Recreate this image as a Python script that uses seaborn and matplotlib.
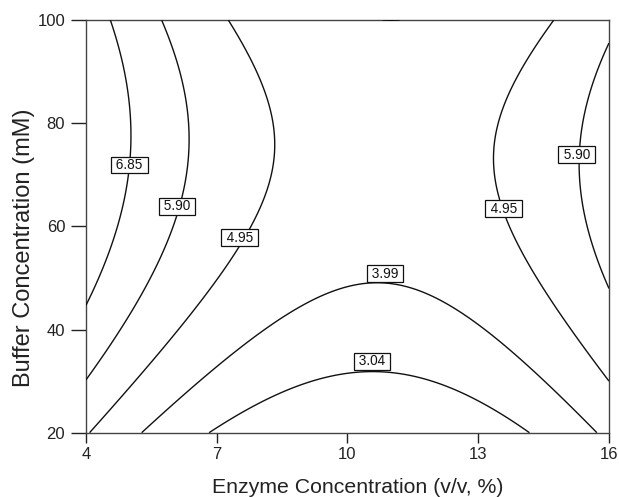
import numpy as np
import matplotlib
matplotlib.use("Agg")
import matplotlib.pyplot as plt
import seaborn as sns

# Response-surface model (read from the contour geometry)
# f = A + P*(x - (x0 + s*(y - 20)))**2 - Q*(y - yc)**2
A = 4.514
P = 0.069
Q = 0.00081
yc = 74.5
x0 = 10.5
s = 0.00625

levels = [3.04, 3.99, 4.95, 5.90, 6.85]
x_ticks = [4, 7, 10, 13, 16]
y_ticks = [20, 40, 60, 80, 100]
# where the boxed contour labels sit (layout)
label_spots = [(4.99, 71.9), (6.09, 63.9), (7.53, 57.8), (10.86, 50.8),
               (10.56, 33.8), (13.58, 63.4), (15.26, 73.9)]

sns.set_theme(style="ticks")
plt.rcParams['font.family'] = ['Liberation Sans', 'DejaVu Sans']

xg = np.linspace(4, 16, 500)
yg = np.linspace(20, 100, 500)
X, Y = np.meshgrid(xg, yg)
Z = A + P * (X - (x0 + s * (Y - 20))) ** 2 - Q * (Y - yc) ** 2

fig = plt.figure(figsize=(6.19, 4.97), dpi=100)
ax = fig.add_axes([0.1389, 0.1294, 0.9838 - 0.1389, 0.9598 - 0.1294])

cs = ax.contour(X, Y, Z, levels=levels, colors='#111111', linewidths=1.0,
                zorder=3)
labels = ax.clabel(cs, levels=levels, fmt=' %.2f ', inline=False,
                   fontsize=9.8, manual=label_spots)
for t, spot in zip(labels, label_spots):
    t.set_rotation(0)
    t.set_position(spot)
    t.set_color('#111111')
    t.set_zorder(5)
    t.set_bbox(dict(facecolor='white', edgecolor='#111111', linewidth=0.9,
                    boxstyle='square,pad=0.1'))

ax.set_xlim(4, 16)
ax.set_ylim(20, 100)
ax.set_xticks(x_ticks)
ax.set_yticks(y_ticks)
ax.tick_params(axis='both', direction='out', labelsize=12, colors='#222222',
               width=1.0)
ax.tick_params(axis='y', length=11, pad=4)
ax.tick_params(axis='x', length=7, pad=3)
for sp in ax.spines.values():
    sp.set_visible(True)
    sp.set_color('#444444')
    sp.set_linewidth(1.0)

ax.set_xlabel('Enzyme Concentration (v/v, %)', fontsize=15.3, color='#222222')
ax.set_ylabel('Buffer Concentration (mM)', fontsize=17, color='#222222')
ax.xaxis.label.set_va('center')
ax.yaxis.label.set_va('center')
ax.xaxis.set_label_coords(0.52, -0.134)
ax.yaxis.set_label_coords(-0.1185, 0.449)

fig.savefig('out.png', dpi=100)
